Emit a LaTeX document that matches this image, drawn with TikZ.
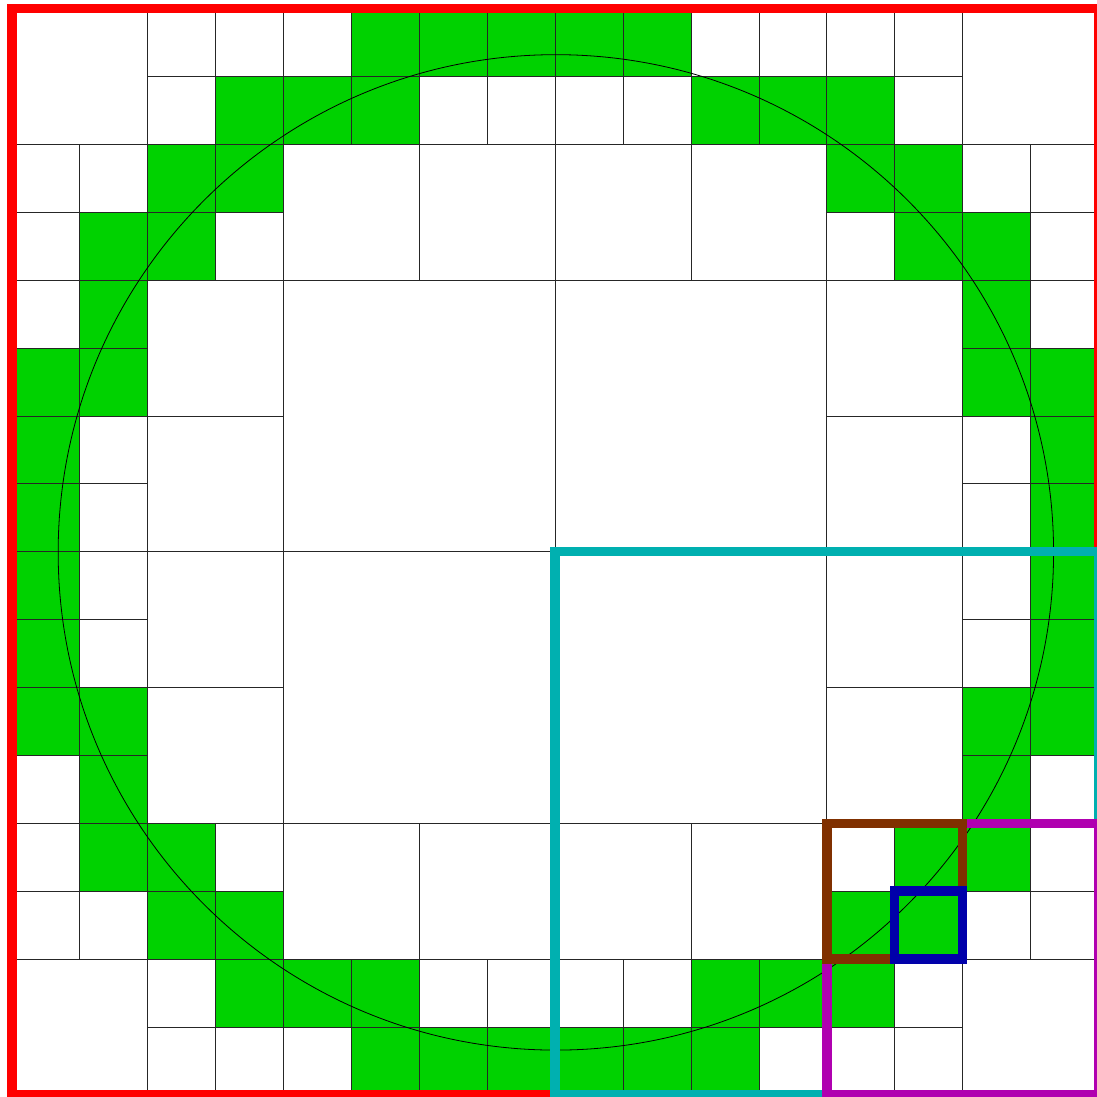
\documentclass[tikz,border=0pt]{standalone}
\definecolor{cellgreen}{RGB}{0,210,0}
\definecolor{hlred}{RGB}{255,0,0}
\definecolor{hlcyan}{RGB}{0,176,176}
\definecolor{hlmagenta}{RGB}{176,0,176}
\definecolor{hlbrown}{RGB}{128,48,0}
\definecolor{hlblue}{RGB}{0,0,170}
\tikzset{
  cellw/.style={draw=black!85, line width=0.8pt, fill=white},
  cellg/.style={draw=black!85, line width=0.8pt, fill=cellgreen},
  hlbox/.style={line width=9.5pt, line join=miter}
}
\begin{document}
\begin{tikzpicture}[x=67.9pt, y=-67.9pt]
\useasboundingbox (-0.1767,-0.1252) rectangle (15.965,16.031);
\fill[white] (-0.1767,-0.1252) rectangle (15.965,16.031);
% white cells: i/j/size
\foreach \i/\j/\s in {
  0/0/2, 2/0/1, 3/0/1, 2/1/1, 4/0/1, 6/1/1, 7/1/1,
  0/2/1, 1/2/1, 0/3/1, 3/3/1, 4/2/2, 6/2/2,
  0/4/1, 2/4/2, 1/6/1, 1/7/1, 2/6/2, 4/4/4,
  8/1/1, 9/1/1, 10/0/1, 11/0/1, 12/0/1, 13/0/1, 13/1/1, 14/0/2,
  8/2/2, 10/2/2, 12/3/1, 14/2/1, 15/2/1, 15/3/1,
  8/4/4, 12/4/2, 12/6/2, 15/4/1, 14/6/1, 14/7/1,
  1/8/1, 1/9/1, 2/8/2, 0/11/1, 2/10/2, 4/8/4,
  0/12/1, 0/13/1, 1/13/1, 3/12/1, 4/12/2, 6/12/2,
  0/14/2, 2/14/1, 2/15/1, 3/15/1, 4/15/1, 6/14/1, 7/14/1,
  8/8/4, 12/8/2, 12/10/2, 14/8/1, 14/9/1, 15/11/1,
  8/12/2, 10/12/2, 12/12/1, 15/12/1, 14/13/1, 15/13/1,
  8/14/1, 9/14/1, 11/15/1, 13/14/1, 12/15/1, 13/15/1, 14/14/2}
  { \draw[cellw] (\i,\j) rectangle ++(\s,\s); }
% green cells
\foreach \i/\j in {
  3/1, 5/0, 4/1, 5/1, 6/0, 7/0,
  1/3, 2/2, 3/2, 2/3,
  1/4, 0/5, 1/5, 0/6, 0/7,
  8/0, 9/0, 10/1, 11/1, 12/1,
  12/2, 13/2, 13/3, 14/3,
  14/4, 14/5, 15/5, 15/6, 15/7,
  0/8, 0/9, 0/10, 1/10, 1/11,
  1/12, 2/12, 2/13, 3/13,
  3/14, 4/14, 5/14, 5/15, 6/15, 7/15,
  15/8, 15/9, 14/10, 15/10, 14/11,
  13/12, 12/13, 13/13, 14/12,
  8/15, 9/15, 10/14, 11/14, 10/15, 12/14}
  { \draw[cellg] (\i,\j) rectangle ++(1,1); }
% circle
\draw[black, line width=0.8pt] (8.01,8.01) circle [radius=7.33];
% highlighted cells
\draw[hlbox, draw=hlred] (0,0) rectangle (16,16);
\draw[hlbox, draw=hlcyan] (8,8) rectangle (16,16);
\draw[hlbox, draw=hlmagenta] (12,12) rectangle (16,16);
\draw[hlbox, draw=hlbrown] (12,12) rectangle (14,14);
\draw[hlbox, draw=hlblue] (13,13) rectangle (14,14);
\end{tikzpicture}
\end{document}
